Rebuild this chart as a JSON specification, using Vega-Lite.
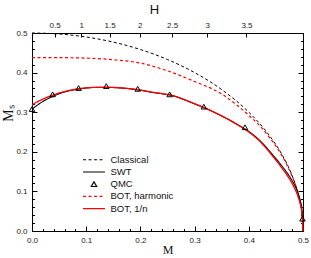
{
  "$schema": "https://vega.github.io/schema/vega-lite/v6.json",
  "width": 271,
  "height": 198,
  "autosize": "none",
  "padding": {"left": 32, "top": 33, "right": 8, "bottom": 27},
  "background": "white",
  "config": {
    "view": {"stroke": "black", "strokeWidth": 1},
    "axis": {
      "labelFont": "Liberation Sans",
      "labelFontSize": 8,
      "labelColor": "#222",
      "titleFont": "Liberation Serif",
      "titleFontWeight": "normal",
      "titleColor": "#111",
      "domainColor": "black",
      "domainWidth": 1,
      "tickColor": "black",
      "tickWidth": 1,
      "grid": false
    }
  },
  "resolve": {"axis": {"x": "independent", "y": "independent"}},
  "layer": [
    {
      "data": {
        "values": [
          {"s": "Classical", "M": 0, "Ms": 0.5},
          {"s": "Classical", "M": 0.05, "Ms": 0.4975},
          {"s": "Classical", "M": 0.1, "Ms": 0.4899},
          {"s": "Classical", "M": 0.15, "Ms": 0.477},
          {"s": "Classical", "M": 0.2, "Ms": 0.4583},
          {"s": "Classical", "M": 0.25, "Ms": 0.433},
          {"s": "Classical", "M": 0.3, "Ms": 0.4},
          {"s": "Classical", "M": 0.35, "Ms": 0.3571},
          {"s": "Classical", "M": 0.4, "Ms": 0.3},
          {"s": "Classical", "M": 0.42, "Ms": 0.2713},
          {"s": "Classical", "M": 0.44, "Ms": 0.2375},
          {"s": "Classical", "M": 0.46, "Ms": 0.196},
          {"s": "Classical", "M": 0.47, "Ms": 0.1706},
          {"s": "Classical", "M": 0.48, "Ms": 0.14},
          {"s": "Classical", "M": 0.49, "Ms": 0.0995},
          {"s": "Classical", "M": 0.495, "Ms": 0.0705},
          {"s": "Classical", "M": 0.499, "Ms": 0.0316},
          {"s": "Classical", "M": 0.5, "Ms": 0},
          {"s": "BOT, harmonic", "M": 0, "Ms": 0.438},
          {"s": "BOT, harmonic", "M": 0.05, "Ms": 0.4378},
          {"s": "BOT, harmonic", "M": 0.1, "Ms": 0.4366},
          {"s": "BOT, harmonic", "M": 0.15, "Ms": 0.4325},
          {"s": "BOT, harmonic", "M": 0.2, "Ms": 0.424},
          {"s": "BOT, harmonic", "M": 0.25, "Ms": 0.4045},
          {"s": "BOT, harmonic", "M": 0.3, "Ms": 0.3775},
          {"s": "BOT, harmonic", "M": 0.35, "Ms": 0.346},
          {"s": "BOT, harmonic", "M": 0.4, "Ms": 0.292},
          {"s": "BOT, harmonic", "M": 0.42, "Ms": 0.266},
          {"s": "BOT, harmonic", "M": 0.44, "Ms": 0.233},
          {"s": "BOT, harmonic", "M": 0.46, "Ms": 0.193},
          {"s": "BOT, harmonic", "M": 0.47, "Ms": 0.168},
          {"s": "BOT, harmonic", "M": 0.48, "Ms": 0.138},
          {"s": "BOT, harmonic", "M": 0.49, "Ms": 0.098},
          {"s": "BOT, harmonic", "M": 0.495, "Ms": 0.07},
          {"s": "BOT, harmonic", "M": 0.499, "Ms": 0.031},
          {"s": "BOT, harmonic", "M": 0.5, "Ms": 0},
          {"s": "SWT", "M": 0, "Ms": 0.308},
          {"s": "SWT", "M": 0.02, "Ms": 0.327},
          {"s": "SWT", "M": 0.04, "Ms": 0.341},
          {"s": "SWT", "M": 0.06, "Ms": 0.351},
          {"s": "SWT", "M": 0.08, "Ms": 0.357},
          {"s": "SWT", "M": 0.1, "Ms": 0.361},
          {"s": "SWT", "M": 0.12, "Ms": 0.3625},
          {"s": "SWT", "M": 0.14, "Ms": 0.3625},
          {"s": "SWT", "M": 0.16, "Ms": 0.3615},
          {"s": "SWT", "M": 0.18, "Ms": 0.359},
          {"s": "SWT", "M": 0.2, "Ms": 0.3555},
          {"s": "SWT", "M": 0.22, "Ms": 0.3505},
          {"s": "SWT", "M": 0.24, "Ms": 0.3465},
          {"s": "SWT", "M": 0.26, "Ms": 0.3415},
          {"s": "SWT", "M": 0.28, "Ms": 0.332},
          {"s": "SWT", "M": 0.3, "Ms": 0.321},
          {"s": "SWT", "M": 0.32, "Ms": 0.31},
          {"s": "SWT", "M": 0.34, "Ms": 0.297},
          {"s": "SWT", "M": 0.36, "Ms": 0.2835},
          {"s": "SWT", "M": 0.38, "Ms": 0.268},
          {"s": "SWT", "M": 0.4, "Ms": 0.2515},
          {"s": "SWT", "M": 0.42, "Ms": 0.229},
          {"s": "SWT", "M": 0.44, "Ms": 0.199},
          {"s": "SWT", "M": 0.46, "Ms": 0.166},
          {"s": "SWT", "M": 0.47, "Ms": 0.148},
          {"s": "SWT", "M": 0.48, "Ms": 0.127},
          {"s": "SWT", "M": 0.49, "Ms": 0.099},
          {"s": "SWT", "M": 0.495, "Ms": 0.077},
          {"s": "SWT", "M": 0.498, "Ms": 0.055},
          {"s": "SWT", "M": 0.5, "Ms": 0},
          {"s": "BOT, 1/n", "M": 0, "Ms": 0.319},
          {"s": "BOT, 1/n", "M": 0.02, "Ms": 0.333},
          {"s": "BOT, 1/n", "M": 0.04, "Ms": 0.344},
          {"s": "BOT, 1/n", "M": 0.06, "Ms": 0.352},
          {"s": "BOT, 1/n", "M": 0.08, "Ms": 0.358},
          {"s": "BOT, 1/n", "M": 0.1, "Ms": 0.3615},
          {"s": "BOT, 1/n", "M": 0.12, "Ms": 0.363},
          {"s": "BOT, 1/n", "M": 0.14, "Ms": 0.363},
          {"s": "BOT, 1/n", "M": 0.16, "Ms": 0.362},
          {"s": "BOT, 1/n", "M": 0.18, "Ms": 0.3595},
          {"s": "BOT, 1/n", "M": 0.2, "Ms": 0.356},
          {"s": "BOT, 1/n", "M": 0.22, "Ms": 0.351},
          {"s": "BOT, 1/n", "M": 0.24, "Ms": 0.347},
          {"s": "BOT, 1/n", "M": 0.26, "Ms": 0.342},
          {"s": "BOT, 1/n", "M": 0.28, "Ms": 0.3325},
          {"s": "BOT, 1/n", "M": 0.3, "Ms": 0.3215},
          {"s": "BOT, 1/n", "M": 0.32, "Ms": 0.3105},
          {"s": "BOT, 1/n", "M": 0.34, "Ms": 0.2975},
          {"s": "BOT, 1/n", "M": 0.36, "Ms": 0.2835},
          {"s": "BOT, 1/n", "M": 0.38, "Ms": 0.2675},
          {"s": "BOT, 1/n", "M": 0.4, "Ms": 0.25},
          {"s": "BOT, 1/n", "M": 0.42, "Ms": 0.227},
          {"s": "BOT, 1/n", "M": 0.44, "Ms": 0.196},
          {"s": "BOT, 1/n", "M": 0.46, "Ms": 0.161},
          {"s": "BOT, 1/n", "M": 0.47, "Ms": 0.142},
          {"s": "BOT, 1/n", "M": 0.48, "Ms": 0.12},
          {"s": "BOT, 1/n", "M": 0.49, "Ms": 0.09},
          {"s": "BOT, 1/n", "M": 0.495, "Ms": 0.068},
          {"s": "BOT, 1/n", "M": 0.498, "Ms": 0.045},
          {"s": "BOT, 1/n", "M": 0.5, "Ms": 0}
        ]
      },
      "mark": {"type": "line", "interpolate": "monotone", "clip": false},
      "encoding": {
        "x": {
          "field": "M", "type": "quantitative",
          "scale": {"domain": [0, 0.5], "nice": false, "zero": false},
          "axis": {
            "orient": "bottom",
            "title": "M",
            "titleFontSize": 12,
            "titleBaseline": "middle",
            "titleY": 18,
            "values": [0, 0.02, 0.04, 0.06, 0.08, 0.1, 0.12, 0.14, 0.16, 0.18, 0.2, 0.22, 0.24, 0.26, 0.28, 0.3, 0.32, 0.34, 0.36, 0.38, 0.4, 0.42, 0.44, 0.46, 0.48, 0.5],
            "labelExpr": "abs(datum.value*10 - round(datum.value*10)) < 0.01 ? format(datum.value, '.1f') : ''",
            "tickSize": {"condition": {"test": "abs(datum.value*10 - round(datum.value*10)) < 0.01", "value": -5}, "value": -2.5},
            "labelPadding": 10,
            "labelFlush": false,
            "labelOverlap": false
          }
        },
        "y": {
          "field": "Ms", "type": "quantitative",
          "scale": {"domain": [0, 0.5], "nice": false, "zero": false},
          "axis": {
            "orient": "left",
            "title": "Mₛ",
            "titleFontSize": 14,
            "titleBaseline": "middle",
            "titleX": -24,
            "titleY": 80,
            "values": [0, 0.02, 0.04, 0.06, 0.08, 0.1, 0.12, 0.14, 0.16, 0.18, 0.2, 0.22, 0.24, 0.26, 0.28, 0.3, 0.32, 0.34, 0.36, 0.38, 0.4, 0.42, 0.44, 0.46, 0.48, 0.5],
            "labelExpr": "abs(datum.value*10 - round(datum.value*10)) < 0.01 ? format(datum.value, '.1f') : ''",
            "tickSize": {"condition": {"test": "abs(datum.value*10 - round(datum.value*10)) < 0.01", "value": -5}, "value": -2.5},
            "labelPadding": 10,
            "labelFlush": false,
            "labelOverlap": false
          }
        },
        "color": {
          "field": "s", "type": "nominal",
          "scale": {
            "domain": ["Classical", "SWT", "QMC", "BOT, harmonic", "BOT, 1/n"],
            "range": ["black", "black", "black", "#f00", "#f00"]
          },
          "legend": {
            "title": null,
            "orient": "none",
            "legendX": 51,
            "legendY": 122,
            "padding": 0,
            "symbolSize": 30,
            "symbolType": "circle",
            "labelFont": "Liberation Sans",
            "labelFontSize": 9.5,
            "labelColor": "#111",
            "rowPadding": 1.2,
            "labelOffset": 18,
            "encode": {
              "symbols": {
                "update": {
                  "x": {"value": 11},
                  "shape": {"signal": "datum.value === 'QMC' ? 'triangle-up' : 'M-4,0H4'"},
                  "size": {"value": 30},
                  "strokeDash": {"signal": "(datum.value === 'Classical' || datum.value === 'BOT, harmonic') ? [3, 2.5] : [1, 0]"},
                  "strokeWidth": {"signal": "datum.value === 'BOT, 1/n' ? 1.6 : 1.2"},
                  "fill": {"value": "transparent"},
                  "stroke": {"scale": "color", "field": "value"},
                  "opacity": {"value": 1}
                }
              }
            }
          }
        },
        "strokeDash": {
          "field": "s", "type": "nominal",
          "scale": {
            "domain": ["Classical", "SWT", "QMC", "BOT, harmonic", "BOT, 1/n"],
            "range": [[3, 2.5], [1, 0], [1, 0], [3, 2.5], [1, 0]]
          },
          "legend": null
        },
        "strokeWidth": {
          "field": "s", "type": "nominal",
          "scale": {
            "domain": ["Classical", "SWT", "QMC", "BOT, harmonic", "BOT, 1/n"],
            "range": [1, 1.3, 1, 1, 1.5]
          },
          "legend": null
        }
      }
    },
    {
      "data": {
        "values": [
          {"s": "QMC", "M": 0.0, "Ms": 0.308},
          {"s": "QMC", "M": 0.038, "Ms": 0.345},
          {"s": "QMC", "M": 0.086, "Ms": 0.361},
          {"s": "QMC", "M": 0.137, "Ms": 0.366},
          {"s": "QMC", "M": 0.195, "Ms": 0.359},
          {"s": "QMC", "M": 0.254, "Ms": 0.345},
          {"s": "QMC", "M": 0.317, "Ms": 0.314},
          {"s": "QMC", "M": 0.393, "Ms": 0.262},
          {"s": "QMC", "M": 0.499, "Ms": 0.031}
        ]
      },
      "mark": {"type": "point", "shape": "triangle-up", "filled": false, "size": 30, "strokeWidth": 1, "opacity": 1, "clip": false},
      "encoding": {
        "x": {
          "field": "M", "type": "quantitative",
          "scale": {"domain": [0, 0.5], "nice": false, "zero": false},
          "axis": {
            "orient": "top",
            "title": "H",
            "titleFont": "Liberation Sans",
            "titleFontSize": 13,
            "titleBaseline": "middle",
            "titleX": 122,
            "titleY": -24,
            "values": [0.0417, 0.091, 0.1433, 0.1987, 0.2585, 0.3231, 0.3957],
            "labelExpr": "datum.value < 0.06 ? '0.5' : datum.value < 0.12 ? '1' : datum.value < 0.17 ? '1.5' : datum.value < 0.23 ? '2' : datum.value < 0.29 ? '2.5' : datum.value < 0.36 ? '3' : '3.5'",
            "tickSize": -4,
            "labelPadding": 8,
            "labelFlush": false,
            "labelOverlap": false
          }
        },
        "y": {
          "field": "Ms", "type": "quantitative",
          "scale": {"domain": [0, 0.5], "nice": false, "zero": false},
          "axis": {
            "orient": "right",
            "title": null,
            "labels": false,
            "values": [0, 0.02, 0.04, 0.06, 0.08, 0.1, 0.12, 0.14, 0.16, 0.18, 0.2, 0.22, 0.24, 0.26, 0.28, 0.3, 0.32, 0.34, 0.36, 0.38, 0.4, 0.42, 0.44, 0.46, 0.48, 0.5],
            "tickSize": {"condition": {"test": "abs(datum.value*10 - round(datum.value*10)) < 0.01", "value": -5}, "value": -2.5}
          }
        },
        "color": {
          "field": "s", "type": "nominal",
          "scale": {
            "domain": ["Classical", "SWT", "QMC", "BOT, harmonic", "BOT, 1/n"],
            "range": ["black", "black", "black", "#f00", "#f00"]
          }
        }
      }
    }
  ]
}
